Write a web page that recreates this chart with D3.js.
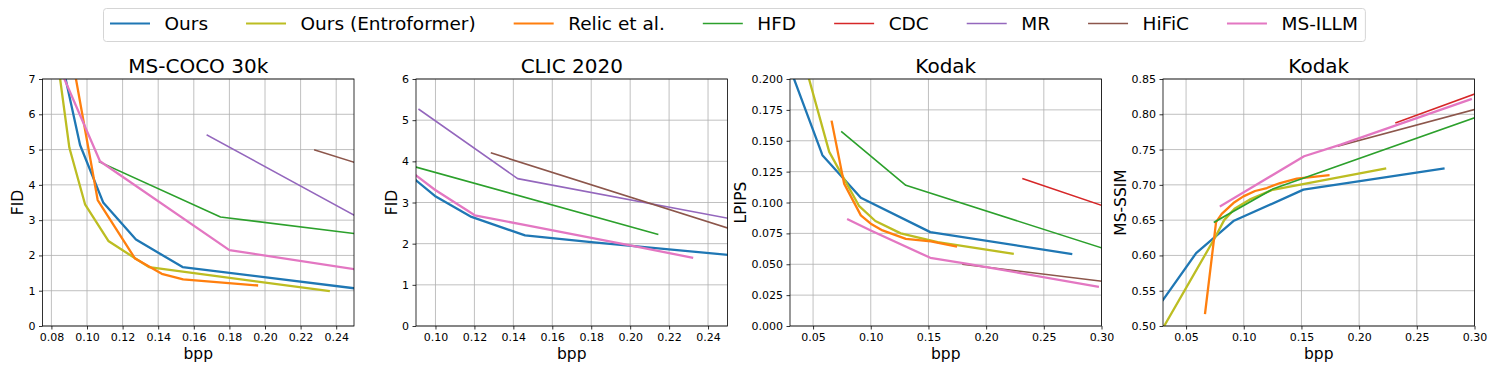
<!DOCTYPE html>
<html><head><meta charset="utf-8">
<script src="https://cdn.jsdelivr.net/npm/d3@7"></script>
<style>body{margin:0;background:#fff} svg{display:block} text{font-family:"DejaVu Sans",sans-serif;fill:#000}</style>
</head><body><svg id="c" width="1495" height="372"></svg>
<script>
const seriesNames = ["Ours","Ours (Entroformer)","Relic et al.","HFD","CDC","MR","HiFiC","MS-ILLM"];
const seriesColors = ["#1f77b4","#bcbd22","#ff7f0e","#2ca02c","#d62728","#9467bd","#8c564b","#e377c2"];
const thickSeries = ["Ours","Ours (Entroformer)","Relic et al.","MS-ILLM"];

// MS-COCO 30k: [bpp, FID]
const cocoOurs   = [[0.088,7.0],[0.0961,5.13],[0.1092,3.49],[0.1275,2.45],[0.1537,1.67],[0.25,1.07]];
const cocoEntro  = [[0.0849,7.0],[0.0901,5.05],[0.0989,3.45],[0.112,2.41],[0.1279,1.89],[0.1348,1.67],[0.2358,0.99]];
const cocoRelic  = [[0.0938,7.0],[0.106,3.57],[0.127,1.91],[0.142,1.48],[0.154,1.32],[0.1955,1.15]];
const cocoHFD    = [[0.107,4.65],[0.175,3.09],[0.25,2.62]];
const cocoMR     = [[0.1676,5.41],[0.25,3.14]];
const cocoHiFiC  = [[0.228,4.99],[0.25,4.64]];
const cocoMSILLM = [[0.0873,7.0],[0.1073,4.67],[0.18,2.15],[0.25,1.61]];

// CLIC 2020: [bpp, FID]
const clicOurs   = [[0.09,3.54],[0.0997,3.16],[0.1185,2.65],[0.146,2.20],[0.18,2.04],[0.25,1.73]];
const clicHFD    = [[0.09,3.86],[0.2141,2.23]];
const clicMR     = [[0.0916,5.26],[0.1422,3.58],[0.25,2.62]];
const clicHiFiC  = [[0.1288,4.20],[0.25,2.38]];
const clicMSILLM = [[0.09,3.66],[0.0997,3.31],[0.1202,2.69],[0.145,2.46],[0.20,1.96],[0.2318,1.66]];

// Kodak: [bpp, LPIPS]
const lpipsOurs   = [[0.0335,0.2],[0.0581,0.1383],[0.0914,0.1039],[0.1516,0.0760],[0.2737,0.0584]];
const lpipsEntro  = [[0.0465,0.2],[0.064,0.141],[0.09,0.097],[0.104,0.085],[0.126,0.075],[0.158,0.068],[0.223,0.0585]];
const lpipsRelic  = [[0.0662,0.1654],[0.0769,0.1153],[0.0914,0.0896],[0.1,0.0828],[0.1102,0.0774],[0.1304,0.0706],[0.1521,0.0685],[0.1738,0.0644]];
const lpipsHFD    = [[0.0749,0.1572],[0.1304,0.1139],[0.30,0.0633]];
const lpipsCDC    = [[0.232,0.1193],[0.30,0.0977]];
const lpipsHiFiC  = [[0.18,0.050],[0.30,0.0363]];
const lpipsMSILLM = [[0.0804,0.0863],[0.1,0.0774],[0.1516,0.0552],[0.184,0.0503],[0.2968,0.0319]];

// Kodak: [bpp, MS-SSIM]
const ssimOurs   = [[0.03,0.5369],[0.0587,0.6032],[0.091,0.6487],[0.1517,0.6932],[0.2731,0.723]];
const ssimEntro  = [[0.031,0.50],[0.075,0.625],[0.083,0.65],[0.092,0.666],[0.105,0.679],[0.125,0.693],[0.2225,0.723]];
const ssimRelic  = [[0.0665,0.5185],[0.076,0.6473],[0.0809,0.659],[0.091,0.6742],[0.0997,0.6837],[0.1098,0.6913],[0.12,0.6955],[0.1315,0.7026],[0.146,0.7088],[0.1734,0.7135]];
const ssimHFD    = [[0.0746,0.6473],[0.1257,0.6946],[0.30,0.795]];
const ssimCDC    = [[0.232,0.7879],[0.30,0.8287]];
const ssimHiFiC  = [[0.182,0.755],[0.30,0.8068]];
const ssimMSILLM = [[0.0801,0.67],[0.1523,0.7405],[0.184,0.757],[0.2968,0.8214]];

// ticks
const cocoXTicks = [0.08,0.10,0.12,0.14,0.16,0.18,0.20,0.22,0.24];
const cocoYTicks = [0,1,2,3,4,5,6,7];
const clicXTicks = [0.10,0.12,0.14,0.16,0.18,0.20,0.22,0.24];
const clicYTicks = [0,1,2,3,4,5,6];
const kodakXTicks = [0.05,0.10,0.15,0.20,0.25,0.30];
const lpipsYTicks = [0,0.025,0.05,0.075,0.1,0.125,0.15,0.175,0.2];
const ssimYTicks = [0.5,0.55,0.6,0.65,0.7,0.75,0.8,0.85];

const titles = ["MS-COCO 30k","CLIC 2020","Kodak","Kodak"];
const yLabels = ["FID","FID","LPIPS","MS-SSIM"];
const xLabel = "bpp";

const panels = [
  {xDom:[0.075,0.25], yDom:[0,7], xt:cocoXTicks, yt:cocoYTicks, xf:".2f", yf:"d",
   series:{"Ours":cocoOurs,"Ours (Entroformer)":cocoEntro,"Relic et al.":cocoRelic,"HFD":cocoHFD,"MR":cocoMR,"HiFiC":cocoHiFiC,"MS-ILLM":cocoMSILLM}},
  {xDom:[0.09,0.25], yDom:[0,6], xt:clicXTicks, yt:clicYTicks, xf:".2f", yf:"d",
   series:{"Ours":clicOurs,"HFD":clicHFD,"MR":clicMR,"HiFiC":clicHiFiC,"MS-ILLM":clicMSILLM}},
  {xDom:[0.03,0.30], yDom:[0,0.2], xt:kodakXTicks, yt:lpipsYTicks, xf:".2f", yf:".3f",
   series:{"Ours":lpipsOurs,"Ours (Entroformer)":lpipsEntro,"Relic et al.":lpipsRelic,"HFD":lpipsHFD,"CDC":lpipsCDC,"HiFiC":lpipsHiFiC,"MS-ILLM":lpipsMSILLM}},
  {xDom:[0.03,0.30], yDom:[0.5,0.85], xt:kodakXTicks, yt:ssimYTicks, xf:".2f", yf:".2f",
   series:{"Ours":ssimOurs,"Ours (Entroformer)":ssimEntro,"Relic et al.":ssimRelic,"HFD":ssimHFD,"CDC":ssimCDC,"HiFiC":ssimHiFiC,"MS-ILLM":ssimMSILLM}}
];

const svg = d3.select("#c");
const lefts = [42.5, 416, 790, 1163];
const W = 311.5, plotTop = 79, plotBottom = 326;
const color = d3.scaleOrdinal().domain(seriesNames).range(seriesColors);
const lw = n => thickSeries.includes(n) ? 2.3 : 1.6;

panels.forEach((p, i) => {
  const L = lefts[i];
  const x = d3.scaleLinear().domain(p.xDom).range([L, L + W]);
  const y = d3.scaleLinear().domain(p.yDom).range([plotBottom, plotTop]);
  const g = svg.append("g");
  const cid = "clip" + i;
  svg.append("defs").append("clipPath").attr("id", cid)
    .append("rect").attr("x", L).attr("y", plotTop).attr("width", W).attr("height", plotBottom - plotTop);

  // grid
  g.selectAll(".gx").data(p.xt).join("line").attr("class","gx")
    .attr("x1", d => x(d)).attr("x2", d => x(d)).attr("y1", plotTop).attr("y2", plotBottom)
    .attr("stroke", "#b0b0b0").attr("stroke-width", 0.8);
  g.selectAll(".gy").data(p.yt).join("line").attr("class","gy")
    .attr("x1", L).attr("x2", L + W).attr("y1", d => y(d)).attr("y2", d => y(d))
    .attr("stroke", "#b0b0b0").attr("stroke-width", 0.8);

  // lines
  const line = d3.line().x(d => x(d[0])).y(d => y(d[1]));
  const lg = g.append("g").attr("clip-path", `url(#${cid})`);
  seriesNames.forEach(n => {
    if (!p.series[n]) return;
    lg.append("path").datum(p.series[n]).attr("d", line)
      .attr("fill", "none").attr("stroke", color(n)).attr("stroke-width", lw(n))
      .attr("stroke-linejoin", "round").attr("stroke-linecap", "square");
  });

  // spine
  g.append("rect").attr("x", L).attr("y", plotTop).attr("width", W).attr("height", plotBottom - plotTop)
    .attr("fill", "none").attr("stroke", "#000").attr("stroke-width", 0.8);

  // axes
  const xa = g.append("g").attr("transform", `translate(0,${plotBottom})`)
    .call(d3.axisBottom(x).tickValues(p.xt).tickFormat(d3.format(p.xf)).tickSize(3.5).tickPadding(3.5));
  const ya = g.append("g").attr("transform", `translate(${L},0)`)
    .call(d3.axisLeft(y).tickValues(p.yt).tickFormat(d3.format(p.yf)).tickSize(3.5).tickPadding(3.5));
  [xa, ya].forEach(a => {
    a.select(".domain").remove();
    a.selectAll(".tick line").attr("stroke", "#000").attr("stroke-width", 0.8);
    a.selectAll(".tick text").attr("font-size", 11).attr("font-family", "DejaVu Sans").attr("fill", "#000");
  });

  // title
  g.append("text").attr("x", L + W / 2).attr("y", 73).attr("text-anchor", "middle")
    .attr("font-size", 20).text(titles[i]);
  // x label
  g.append("text").attr("x", L + W / 2).attr("y", 359).attr("text-anchor", "middle")
    .attr("font-size", 15.5).text(xLabel);
  // y label
  const bb = ya.node().getBBox();
  const lx = L + bb.x - 5.5;
  g.append("text").attr("transform", `translate(${lx},${(plotTop + plotBottom) / 2}) rotate(-90)`)
    .attr("text-anchor", "middle").attr("font-size", 15.5).text(yLabels[i]);
});

// legend
const leg = svg.append("g");
const box = leg.append("rect").attr("x", 103.5).attr("y", 8.5).attr("height", 33)
  .attr("rx", 3).attr("fill", "#fff").attr("stroke", "#d5d5d5").attr("stroke-width", 1);
let cx = 110;
seriesNames.forEach(n => {
  leg.append("line").attr("x1", cx).attr("x2", cx + 40).attr("y1", 23.5).attr("y2", 23.5)
    .attr("stroke", color(n)).attr("stroke-width", lw(n) * 0.9);
  const t = leg.append("text").attr("x", cx + 54.5).attr("y", 30.2).attr("font-size", 18.5).text(n);
  cx = cx + 54.5 + t.node().getComputedTextLength() + 38;
});
box.attr("width", cx - 38 + 7.5 - 103.5);
</script></body></html>
